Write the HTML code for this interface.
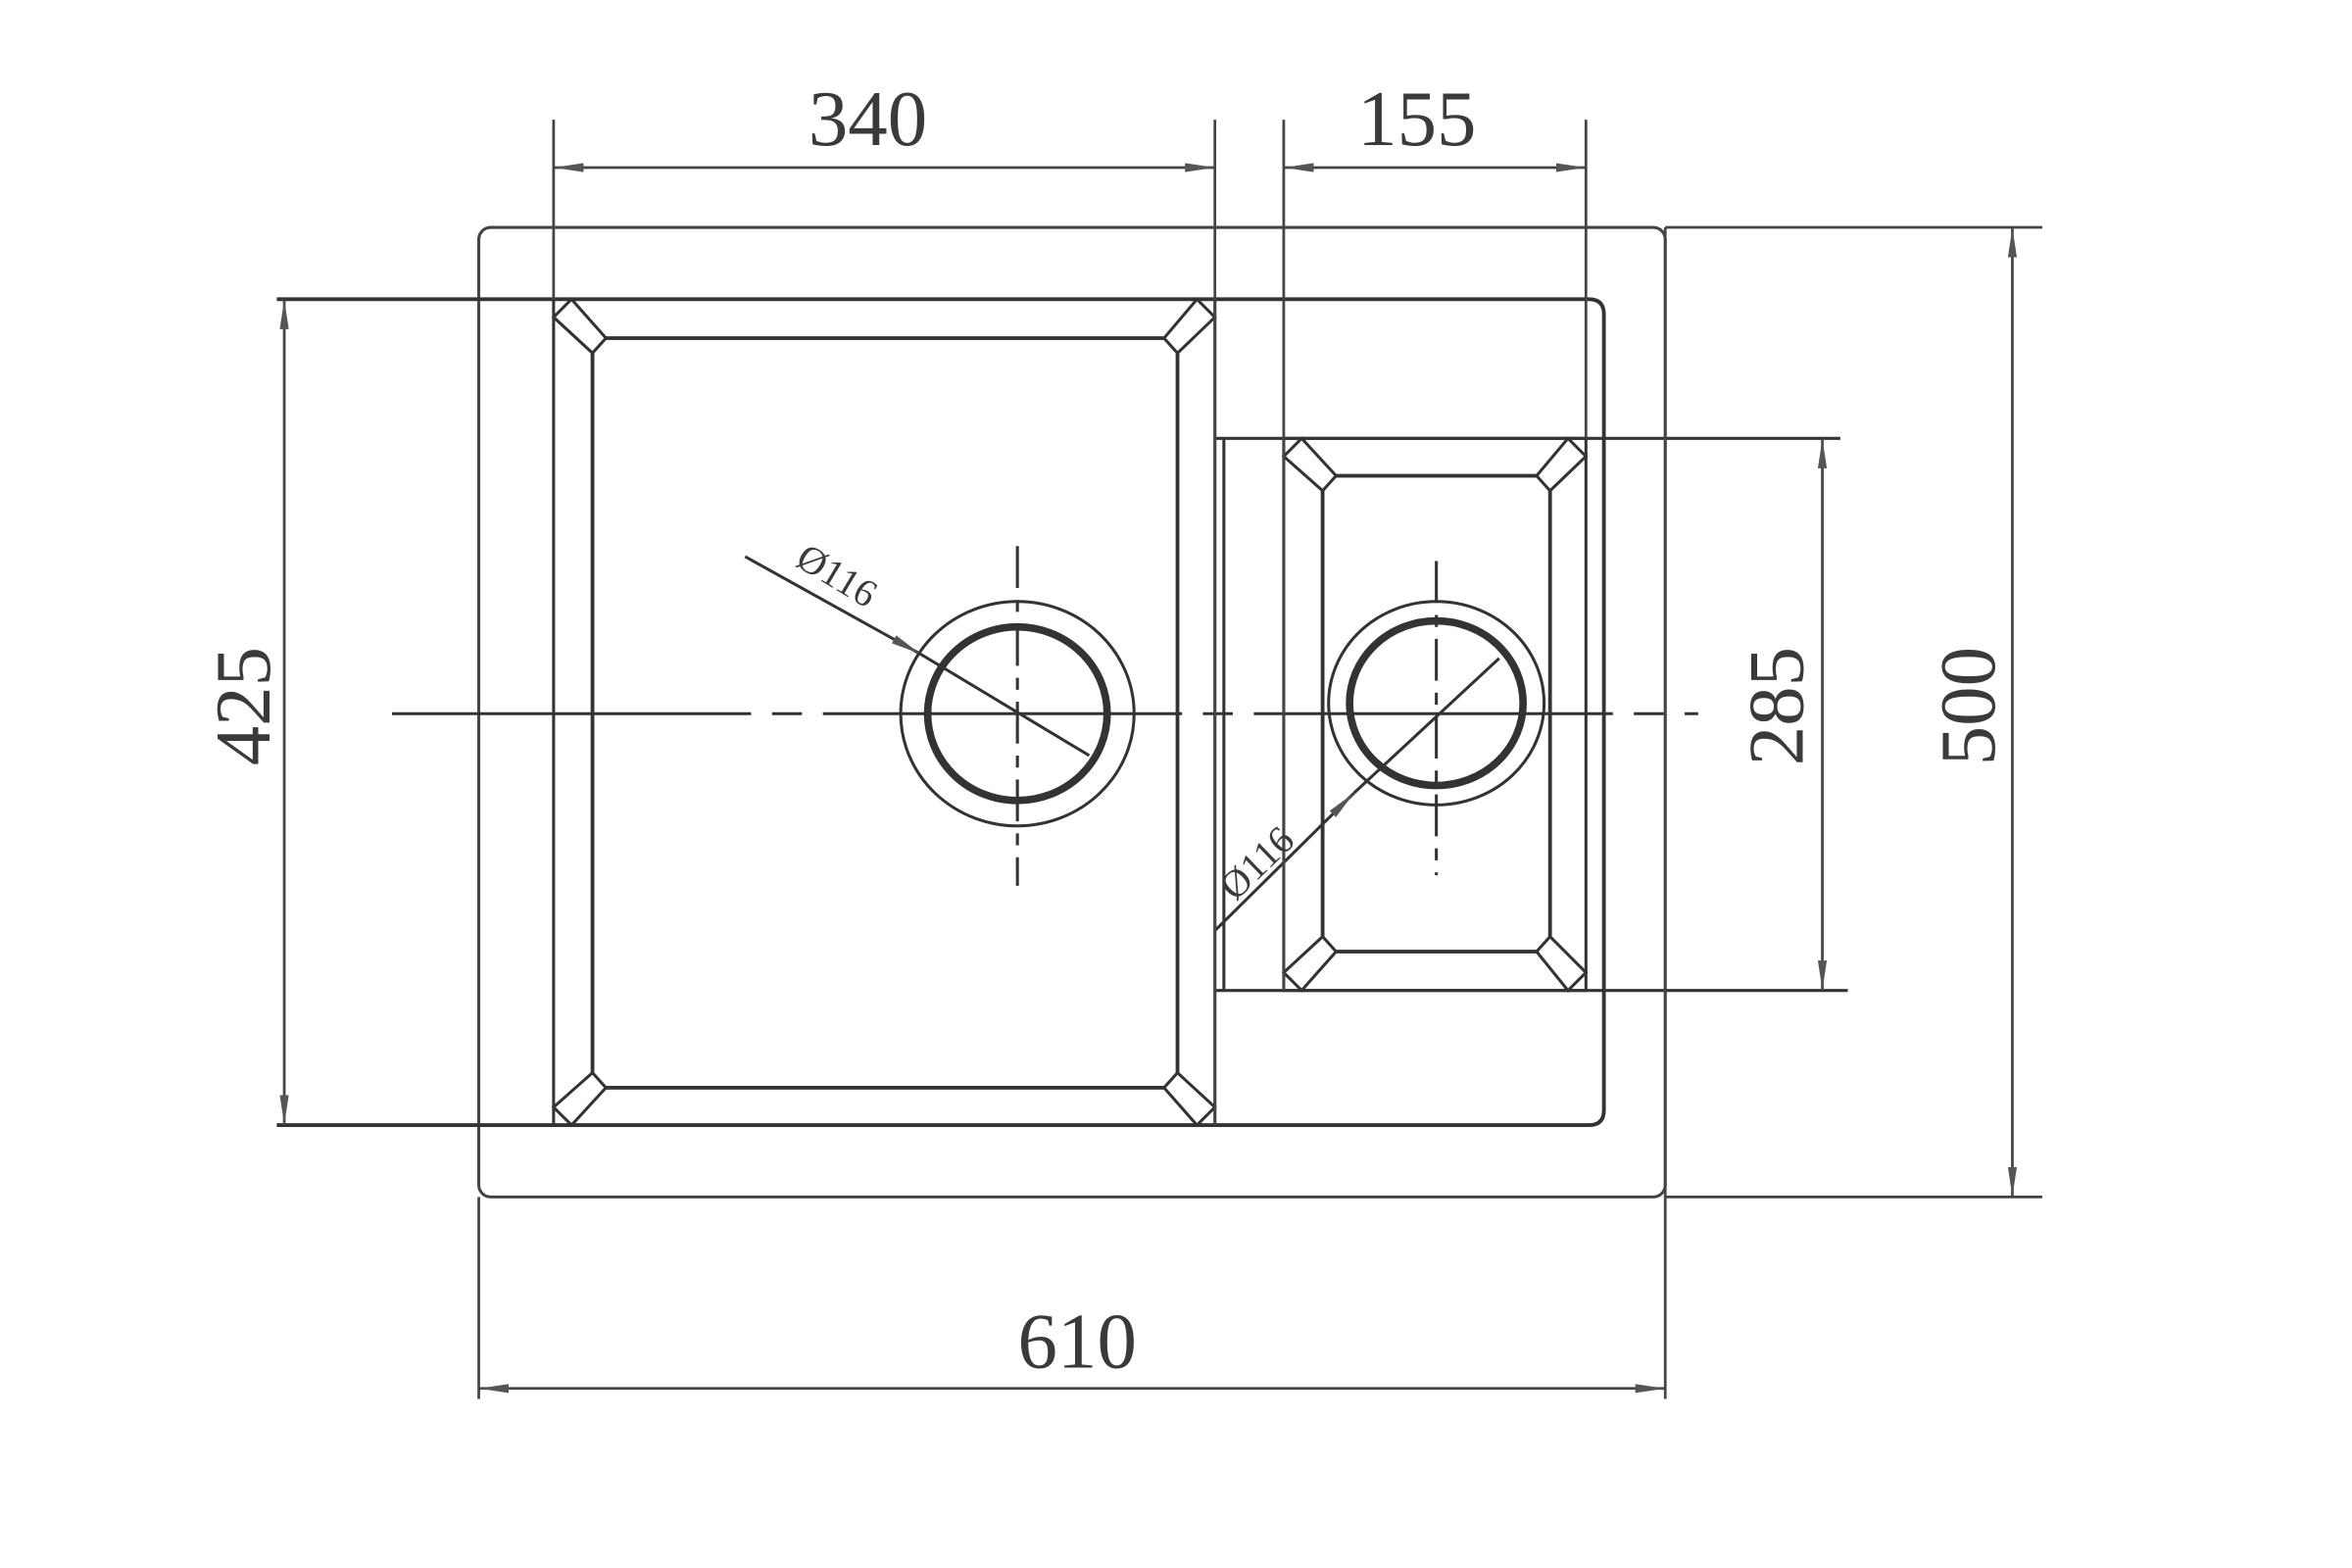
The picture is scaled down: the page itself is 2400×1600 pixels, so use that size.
<!DOCTYPE html>
<html><head><meta charset="utf-8"><style>html,body{margin:0;padding:0;background:#fff}svg{display:block}</style></head>
<body>
<svg width="2400" height="1600" viewBox="0 0 1572 1048" preserveAspectRatio="none" xmlns="http://www.w3.org/2000/svg">
<defs>
<marker id="a" viewBox="0 0 20 8" refX="20" refY="4" markerWidth="20" markerHeight="8" markerUnits="userSpaceOnUse" orient="auto-start-reverse">
<path d="M0,1 L20,4 L0,7 z" fill="#555"/>
</marker>
</defs>
<g fill="none" stroke="#333" stroke-width="2">
<rect x="320" y="152" width="793" height="648" rx="8" stroke="#444"/>
<path d="M185,200 H1062 Q1072,200 1072,210 V742 Q1072,752 1062,752 H185" stroke="#333" stroke-width="2.5"/>
<rect x="370" y="200" width="442" height="552"/>
<rect x="396" y="226" width="391" height="501" stroke-width="2.5"/>
<path d="M818,293 V662"/>
<path d="M812,293 H1230 M812,662 H1235"/>
<rect x="858" y="293" width="202" height="369"/>
<rect x="884" y="318" width="152" height="318" stroke-width="2.5"/>
</g>
<g fill="#fff" stroke="#333" stroke-width="2">
<polygon points="370,212 382,200 405,226 396,236"/>
<polygon points="812,212 800,200 778,226 787,236"/>
<polygon points="370,740 382,752 405,727 396,717"/>
<polygon points="812,740 800,752 778,727 787,717"/>
<polygon points="858,305 870,293 893,318 884,328"/>
<polygon points="1060,305 1048,293 1027,318 1036,328"/>
<polygon points="858,650 870,662 893,636 884,626"/>
<polygon points="1060,650 1048,662 1027,636 1036,626"/>
</g>
<g fill="none" stroke="#333">
<ellipse cx="680" cy="477" rx="78" ry="75" stroke-width="2"/>
<ellipse cx="680" cy="477" rx="60" ry="58" stroke-width="5"/>
<ellipse cx="960" cy="470" rx="72" ry="68" stroke-width="2"/>
<ellipse cx="960" cy="470" rx="58" ry="55" stroke-width="5"/>
<path d="M262,477 H1135" stroke-width="2" stroke-dasharray="240,14,20,14"/>
<path d="M680,365 V592" stroke-width="2" stroke-dasharray="28,8,8,8"/>
<path d="M960,375 V585" stroke-width="2" stroke-dasharray="28,8,8,8"/>
<path d="M498,372 L615,437" stroke-width="2" marker-end="url(#a)"/>
<path d="M615,437 L728,505" stroke-width="2"/>
<path d="M812,622 L905,530" stroke-width="2" marker-end="url(#a)"/>
<path d="M905,530 L1002,440" stroke-width="2"/>
</g>
<g stroke="#444" stroke-width="1.8" fill="none">
<path d="M370,80 V200 M812,80 V752 M858,80 V662 M1060,80 V293"/>
<path d="M320,800 V935 M1113,152 V935"/>
<path d="M1113,152 H1365 M1113,800 H1365"/>
<path d="M370,112 H812" marker-start="url(#a)" marker-end="url(#a)"/>
<path d="M858,112 H1060" marker-start="url(#a)" marker-end="url(#a)"/>
<path d="M320,928 H1113" marker-start="url(#a)" marker-end="url(#a)"/>
<path d="M190,200 V752" marker-start="url(#a)" marker-end="url(#a)"/>
<path d="M1218,293 V662" marker-start="url(#a)" marker-end="url(#a)"/>
<path d="M1345,152 V800" marker-start="url(#a)" marker-end="url(#a)"/>
</g>
<g font-family="Liberation Serif, serif" font-size="53" fill="#3a3a3a" text-anchor="middle">
<text x="580" y="97">340</text>
<text x="947" y="97">155</text>
<text x="720" y="914">610</text>
<text transform="translate(180,472) rotate(-90)">425</text>
<text transform="translate(1205,472) rotate(-90)">285</text>
<text transform="translate(1333,472) rotate(-90)">500</text>
<text font-size="26" transform="translate(555,392) rotate(31)">Ø116</text>
<text font-size="26" transform="translate(846,583) rotate(-44)">Ø116</text>
</g>
</svg>
</body></html>
